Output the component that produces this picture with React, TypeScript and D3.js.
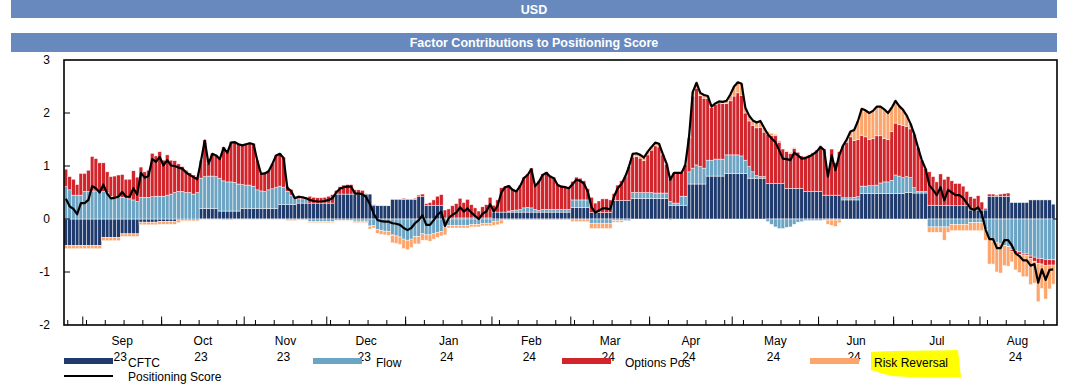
import React from 'react';
import * as d3 from 'd3';

// ---- data (business days from 25 Aug 2023, one value per bar) ----
const START_DATE = new Date(2023, 7, 25);

const CFTC = [
  -0.5, -0.5, -0.5, -0.5, -0.5, -0.5, -0.5, -0.5, -0.5, -0.5,
  -0.35, -0.35, -0.35, -0.35, -0.35, -0.28, -0.28, -0.28, -0.28, -0.28,
  -0.06, -0.06, -0.06, -0.06, -0.06, -0.05, -0.05, -0.05, -0.05, -0.05,
  -0.02, -0.02, -0.02, -0.02, -0.02, -0.02, 0.2, 0.2, 0.2, 0.2,
  0.2, 0.15, 0.15, 0.15, 0.15, 0.15, 0.15, 0.2, 0.2, 0.2,
  0.2, 0.2, 0.2, 0.2, 0.2, 0.2, 0.2, 0.27, 0.27, 0.27,
  0.27, 0.27, 0.3, 0.3, 0.3, 0.3, 0.3, 0.3, 0.3, 0.3,
  0.3, 0.3, 0.47, 0.47, 0.47, 0.47, 0.47, 0.47, 0.47, 0.47,
  0.47, 0.47, 0.25, 0.25, 0.25, 0.25, 0.25, 0.37, 0.37, 0.37,
  0.37, 0.37, 0.37, 0.37, 0.42, 0.42, 0.26, 0.26, 0.26, 0.26,
  0.26, 0.02, 0.02, 0.02, 0.02, 0.02, 0.02, 0.02, 0.02, 0.02,
  0.02, 0.02, 0.02, 0.02, 0.13, 0.13, 0.13, 0.13, 0.13, 0.13,
  0.13, 0.13, 0.13, 0.13, 0.13, 0.13, 0.13, 0.13, 0.13, 0.13,
  0.13, 0.13, 0.13, 0.13, 0.13, 0.22, 0.22, 0.22, 0.22, 0.22,
  0.12, 0.12, 0.12, 0.12, 0.12, 0.12, 0.35, 0.35, 0.35, 0.35,
  0.35, 0.39, 0.39, 0.39, 0.39, 0.39, 0.39, 0.39, 0.39, 0.39,
  0.39, 0.26, 0.26, 0.26, 0.26, 0.26, 0.66, 0.66, 0.66, 0.66,
  0.66, 0.81, 0.81, 0.81, 0.81, 0.81, 0.86, 0.86, 0.86, 0.86,
  0.86, 0.86, 0.77, 0.77, 0.77, 0.77, 0.77, 0.67, 0.67, 0.67,
  0.67, 0.67, 0.58, 0.58, 0.58, 0.58, 0.58, 0.52, 0.52, 0.52,
  0.52, 0.52, 0.45, 0.45, 0.45, 0.45, 0.45, 0.36, 0.36, 0.36,
  0.36, 0.36, 0.48, 0.48, 0.48, 0.48, 0.48, 0.48, 0.48, 0.48,
  0.48, 0.48, 0.48, 0.48, 0.5, 0.5, 0.49, 0.49, 0.49, 0.49,
  0.26, 0.26, 0.26, 0.26, 0.26, 0.26, 0.25, 0.25, 0.25, 0.25,
  0.25, 0.17, 0.17, 0.17, 0.17, 0.17, 0.43, 0.43, 0.43, 0.43,
  0.43, 0.43, 0.31, 0.31, 0.31, 0.31, 0.31, 0.36, 0.36, 0.36,
  0.36, 0.36, 0.36, 0.28,
];

const FLOW = [
  0.61, 0.55, 0.45, 0.45, 0.45, 0.52, 0.52, 0.53, 0.53, 0.53,
  0.52, 0.5, 0.43, 0.41, 0.41, 0.41, 0.4, 0.38, 0.36, 0.33,
  0.41, 0.41, 0.41, 0.42, 0.43, 0.43, 0.43, 0.45, 0.47, 0.5,
  0.52, 0.52, 0.5, 0.5, 0.47, 0.5, 0.57, 0.6, 0.61, 0.61,
  0.6, 0.62, 0.57, 0.55, 0.55, 0.54, 0.51, 0.45, 0.44, 0.44,
  0.42, 0.35, 0.33, 0.32, 0.35, 0.37, 0.4, 0.35, 0.33, 0.25,
  0.18, 0.11, 0.08, 0.08, 0.08, -0.05, -0.05, -0.05, -0.05, -0.05,
  -0.05, -0.05, -0.03, -0.03, -0.03, -0.03, -0.03, -0.04, -0.04, -0.04,
  -0.04, -0.12, -0.12, -0.2, -0.22, -0.23, -0.24, -0.3, -0.32, -0.34,
  -0.38, -0.4, -0.38, -0.33, -0.33, -0.28, -0.3, -0.3, -0.28, -0.25,
  -0.24, -0.15, -0.12, -0.12, -0.12, -0.12, -0.12, -0.12, -0.1, -0.1,
  -0.1, -0.08, -0.08, -0.08, -0.05, -0.04, -0.02, 0.0, 0.02, 0.03,
  0.04, 0.05, 0.08, 0.09, 0.08, 0.05, 0.03, 0.05, 0.05, 0.05,
  0.05, 0.05, 0.05, 0.05, 0.05, 0.14, 0.14, 0.14, 0.14, 0.14,
  -0.08, -0.08, -0.08, -0.08, -0.08, -0.08, -0.03, -0.03, -0.03, -0.03,
  -0.03, 0.11, 0.11, 0.11, 0.11, 0.11, 0.11, 0.1, 0.1, 0.1,
  0.1, 0.07, 0.04, 0.04, 0.17, 0.17, 0.23, 0.3, 0.36, 0.33,
  0.3, 0.3, 0.3, 0.32, 0.32, 0.32, 0.35, 0.35, 0.35, 0.35,
  0.33, 0.25, 0.22, 0.12, 0.05, 0.03, 0.03, -0.05, -0.1, -0.15,
  -0.18, -0.18, -0.16, -0.15, -0.1, -0.06, -0.05, -0.03, -0.03, -0.03,
  -0.03, -0.03, -0.02, -0.02, -0.02, -0.02, -0.02, 0.04, 0.04, 0.04,
  0.05, 0.06, 0.14, 0.14, 0.15, 0.15, 0.16, 0.2, 0.22, 0.22,
  0.25, 0.35, 0.33, 0.3, 0.3, 0.28, 0.1, 0.03, 0.03, 0.03,
  -0.15, -0.15, -0.15, -0.15, -0.15, -0.15, -0.1, -0.1, -0.1, -0.1,
  -0.1, -0.07, -0.07, -0.07, -0.07, -0.2, -0.38, -0.42, -0.45, -0.47,
  -0.5, -0.52, -0.58, -0.6, -0.62, -0.65, -0.66, -0.7, -0.72, -0.74,
  -0.75, -0.76, -0.77, -0.77,
];

const OPTIONS_POS = [
  0.33, 0.25, 0.3, 0.2, 0.41, 0.34, 0.4, 0.65, 0.61, 0.53,
  0.54, 0.39, 0.37, 0.4, 0.42, 0.43, 0.35, 0.37, 0.55, 0.46,
  0.57, 0.48, 0.51, 0.82, 0.76, 0.84, 0.68, 0.76, 0.64, 0.6,
  0.52, 0.47, 0.42, 0.37, 0.36, 0.29, 0.34, 0.69, 0.24, 0.43,
  0.41, 0.37, 0.64, 0.57, 0.76, 0.77, 0.76, 0.75, 0.78, 0.8,
  0.8, 0.56, 0.33, 0.35, 0.36, 0.48, 0.61, 0.62, 0.56, 0.09,
  0.11, 0.04, 0.06, 0.05, 0.03, 0.13, 0.11, 0.1, 0.1, 0.11,
  0.13, 0.16, 0.07, 0.14, 0.17, 0.18, 0.18, 0.08, 0.08, 0.07,
  0.01, -0.02, 0.02, 0.0, 0.0, 0.0, 0.01, -0.01, 0.0, 0.0,
  0.02, 0.0, 0.0, 0.02, 0.03, 0.05, 0.03, 0.05, 0.1, 0.17,
  0.2, 0.15, 0.17, 0.23, 0.27, 0.37, 0.29, 0.35, 0.25, 0.19,
  0.13, 0.21, 0.25, 0.39, 0.13, 0.23, 0.46, 0.49, 0.49, 0.41,
  0.37, 0.46, 0.58, 0.63, 0.75, 0.46, 0.56, 0.67, 0.71, 0.64,
  0.61, 0.48, 0.45, 0.44, 0.42, 0.35, 0.43, 0.41, 0.36, 0.21,
  0.29, 0.18, 0.22, 0.26, 0.26, 0.24, 0.13, 0.29, 0.37, 0.45,
  0.64, 0.67, 0.68, 0.65, 0.6, 0.71, 0.8, 0.89, 0.87, 0.72,
  0.54, 0.43, 0.57, 0.57, 0.44, 0.59, 0.64, 1.36, 1.45, 1.34,
  1.32, 1.16, 0.99, 1.03, 1.06, 1.05, 0.97, 1.02, 1.11, 1.17,
  1.14, 0.89, 0.86, 0.87, 0.9, 0.93, 0.84, 0.93, 0.9, 0.9,
  0.78, 0.65, 0.69, 0.66, 0.75, 0.68, 0.61, 0.66, 0.69, 0.73,
  0.78, 0.82, 0.87, 0.45, 0.87, 0.61, 0.82, 0.98, 1.05, 1.15,
  1.07, 1.08, 0.96, 0.93, 0.87, 0.89, 0.93, 0.89, 0.82, 0.8,
  0.92, 0.98, 0.97, 0.98, 0.95, 0.92, 1.01, 0.83, 0.59, 0.43,
  0.63, 0.54, 0.44, 0.59, 0.49, 0.54, 0.47, 0.42, 0.42, 0.37,
  0.27, 0.25, 0.22, 0.27, 0.15, 0.03, 0.04, 0.04, 0.02, 0.04,
  0.05, 0.06, -0.03, -0.05, -0.05, -0.03, -0.03, -0.05, -0.08, -0.1,
  -0.1, -0.12, -0.1, -0.1,
];

const RISK_REVERSAL = [
  -0.06, -0.06, -0.06, -0.06, -0.06, -0.06, -0.06, -0.06, -0.06, -0.06,
  -0.06, -0.06, -0.06, -0.06, -0.06, -0.05, -0.05, -0.05, -0.05, -0.05,
  -0.05, -0.05, -0.05, -0.05, -0.05, -0.05, -0.05, -0.05, -0.05, -0.05,
  -0.05, -0.02, -0.02, -0.02, -0.02, -0.02, -0.01, -0.01, -0.01, -0.01,
  -0.01, -0.01, -0.02, -0.02, -0.02, -0.01, -0.01, -0.01, -0.01, -0.01,
  -0.01, -0.01, -0.01, -0.01, -0.01, -0.01, -0.01, -0.01, -0.01, -0.03,
  -0.03, -0.03, -0.02, -0.02, -0.02, -0.02, -0.02, -0.02, -0.02, -0.02,
  -0.02, -0.02, -0.01, -0.01, -0.01, -0.01, -0.01, -0.03, -0.03, -0.03,
  -0.03, -0.05, -0.05, -0.07, -0.07, -0.07, -0.07, -0.14, -0.14, -0.14,
  -0.18, -0.18, -0.16, -0.14, -0.14, -0.12, -0.1, -0.12, -0.1, -0.1,
  -0.08, -0.15, -0.05, -0.05, -0.05, -0.05, -0.05, -0.05, -0.05, -0.05,
  -0.05, -0.05, -0.05, -0.05, -0.07, -0.07, -0.07, -0.02, -0.02, -0.02,
  -0.02, -0.02, -0.02, -0.02, -0.02, -0.02, -0.02, -0.02, -0.02, -0.02,
  -0.02, -0.02, -0.02, -0.02, -0.02, -0.05, -0.05, -0.05, -0.05, -0.05,
  -0.1, -0.1, -0.1, -0.1, -0.1, -0.1, -0.03, -0.03, -0.03, 0.03,
  0.03, 0.06, 0.06, 0.06, 0.06, 0.06, 0.06, 0.06, 0.06, 0.02,
  0.02, -0.02, 0.0, 0.0, 0.0, 0.0, 0.02, 0.08, 0.1, 0.05,
  0.06, 0.05, 0.02, 0.02, 0.03, 0.03, 0.05, 0.12, 0.18, 0.2,
  0.22, 0.1, 0.1, 0.1, 0.1, 0.12, 0.08, 0.05, 0.05, 0.03,
  0.03, 0.0, 0.02, 0.02, 0.02, 0.0, 0.0, 0.0, 0.0, 0.0,
  0.0, 0.05, 0.0, -0.08, -0.1, -0.12, -0.05, 0.0, 0.05, 0.1,
  0.2, 0.35, 0.5, 0.5, 0.5, 0.52, 0.55, 0.55, 0.55, 0.5,
  0.45, 0.42, 0.35, 0.3, 0.2, 0.1, 0.0, 0.0, 0.0, 0.0,
  -0.1, -0.1, -0.1, -0.1, -0.25, -0.1, -0.12, -0.12, -0.12, -0.12,
  -0.12, -0.15, -0.15, -0.15, -0.15, -0.2, -0.47, -0.43, -0.55, -0.55,
  -0.38, -0.37, -0.2, -0.31, -0.34, -0.41, -0.4, -0.49, -0.41, -0.72,
  -0.46, -0.63, -0.45, -0.36,
];

const SERIES_KEYS = ['cftc', 'flow', 'opt', 'rr'];
const SERIES_LABELS = ['CFTC', 'Flow', 'Options Pos', 'Risk Reversal'];
const SERIES_COLORS = ['#1f3a6d', '#6ca4c4', '#d2242b', '#fca66e'];
const LINE_LABEL = 'Positioning Score';
const Y_TICKS = [3, 2, 1, 0, -1, -2];
const MONTH_NAMES = ['Jan', 'Feb', 'Mar', 'Apr', 'May', 'Jun', 'Jul', 'Aug', 'Sep', 'Oct', 'Nov', 'Dec'];
const TITLE = 'USD';
const SUBTITLE = 'Factor Contributions to Positioning Score';

const FONT = '"Liberation Sans", Arial, Helvetica, sans-serif';

function businessDays(start: Date, n: number): Date[] {
  const out: Date[] = [];
  let d = new Date(start);
  while (out.length < n) {
    const wd = d.getDay();
    if (wd !== 0 && wd !== 6) out.push(new Date(d));
    d = d3.timeDay.offset(d, 1);
  }
  return out;
}

export default function App() {
  const W = 1080;
  const H = 389;
  const left = 64;
  const right = 1057;
  const top = 60;
  const bottom = 325;
  const n = CFTC.length;
  const dates = businessDays(START_DATE, n);
  const barsEnd = left + n * 3.754;

  const x = d3.scaleBand<number>().domain(d3.range(n)).range([left, barsEnd]).padding(0);
  const y = d3.scaleLinear().domain([-2, 3]).range([bottom, top]);

  const rows = d3.range(n).map((i) => ({
    cftc: CFTC[i],
    flow: FLOW[i],
    opt: OPTIONS_POS[i],
    rr: RISK_REVERSAL[i],
  }));
  const stacked = d3.stack<any>().keys(SERIES_KEYS).offset(d3.stackOffsetDiverging)(rows);
  const score = rows.map((r) => r.cftc + r.flow + r.opt + r.rr);

  const line = d3
    .line<number>()
    .x((_, i) => (x(i) as number) + x.bandwidth() / 2)
    .y((v) => y(v));

  // ticks
  const weekTicks: number[] = [];
  const monthStarts: number[] = [];
  dates.forEach((d, i) => {
    if (d.getDay() === 1) weekTicks.push(i);
    if (i > 0 && d.getMonth() !== dates[i - 1].getMonth()) monthStarts.push(i);
  });
  const monthLabels = monthStarts.map((mi, k) => {
    const x0 = x(mi) as number;
    const x1 = k + 1 < monthStarts.length ? (x(monthStarts[k + 1]) as number) : barsEnd;
    const d = dates[mi];
    return { cx: (x0 + x1) / 2, m: MONTH_NAMES[d.getMonth()], yy: String(d.getFullYear() % 100) };
  });

  const legendItems = [
    { label: SERIES_LABELS[0], color: SERIES_COLORS[0], x0: 64, tx: 128 },
    { label: SERIES_LABELS[1], color: SERIES_COLORS[1], x0: 313, tx: 376 },
    { label: SERIES_LABELS[2], color: SERIES_COLORS[2], x0: 562, tx: 625 },
    { label: SERIES_LABELS[3], color: SERIES_COLORS[3], x0: 810, tx: 874 },
  ];

  return (
    <svg
      width={W}
      height={H}
      style={{ position: 'absolute', left: 0, top: 0, background: '#fff' }}
      fontFamily={FONT}
    >
      <rect x={0} y={0} width={W} height={H} fill="#fff" />
      {/* title bars */}
      <rect x={11} y={0} width={1046} height={18} fill="#6889be" />
      <text x={534} y={13.5} textAnchor="middle" fill="#fff" fontWeight="bold" fontSize={12.5}>
        {TITLE}
      </text>
      <rect x={11} y={33} width={1046} height={19} fill="#6889be" />
      <text x={534} y={47} textAnchor="middle" fill="#fff" fontWeight="bold" fontSize={12.5}>
        {SUBTITLE}
      </text>

      {/* bars */}
      {stacked.map((s, si) => (
        <g key={SERIES_KEYS[si]} fill={SERIES_COLORS[si]}>
          {s.map((d, i) => {
            const y0 = y(d[0]);
            const y1 = y(d[1]);
            const h = Math.abs(y0 - y1);
            if (h < 0.01) return null;
            return (
              <rect
                key={i}
                x={x(i)}
                y={Math.min(y0, y1)}
                width={x.bandwidth()}
                height={h}
                stroke="#ffffff"
                strokeWidth={0.55}
                strokeOpacity={0.85}
              />
            );
          })}
        </g>
      ))}

      {/* score line */}
      <path d={line(score) || ''} fill="none" stroke="#000" strokeWidth={2.2} strokeLinejoin="round" />

      {/* frame */}
      <rect x={left} y={top} width={right - left} height={bottom - top} fill="none" stroke="#000" strokeWidth={1.6} />

      {/* y axis */}
      {Y_TICKS.map((t) => (
        <g key={t}>
          <text x={50} y={y(t) + 4} textAnchor="end" fontSize={12} fill="#000">
            {t}
          </text>
          {t < 3 && t > -2 && <line x1={left} x2={left + 6} y1={y(t)} y2={y(t)} stroke="#000" strokeWidth={1} />}
        </g>
      ))}
      <line x1={right - 4} x2={right} y1={y(0)} y2={y(0)} stroke="#000" strokeWidth={1} />

      {/* x ticks */}
      {weekTicks.map((i) => (
        <line key={'w' + i} x1={x(i)} x2={x(i)} y1={bottom} y2={bottom - 5} stroke="#000" strokeWidth={1} />
      ))}
      {monthStarts.map((i) => (
        <line key={'m' + i} x1={x(i)} x2={x(i)} y1={bottom} y2={bottom - 8.5} stroke="#000" strokeWidth={1} />
      ))}
      {monthLabels.map((m) => (
        <g key={m.m + m.yy}>
          <text x={m.cx} y={345} textAnchor="middle" fontSize={12} fill="#000">
            {m.m}
          </text>
          <text x={m.cx - 2} y={361} textAnchor="middle" fontSize={12} fill="#000">
            {m.yy}
          </text>
        </g>
      ))}

      {/* legend */}
      <path d="M871,352 C900,350 930,351 958,350 L961,377 C935,378 905,377 892,376 C882,374 876,371 871,370 Z" fill="#ffff00" />
      {legendItems.map((it) => (
        <g key={it.label}>
          <rect x={it.x0} y={358} width={49} height={6} fill={it.color} />
          <text x={it.tx} y={367} fontSize={12} fill="#000">
            {it.label}
          </text>
        </g>
      ))}
      <line x1={64} x2={113} y1={376} y2={376} stroke="#000" strokeWidth={2.2} />
      <text x={128} y={381} fontSize={12} fill="#000">
        {LINE_LABEL}
      </text>
    </svg>
  );
}
